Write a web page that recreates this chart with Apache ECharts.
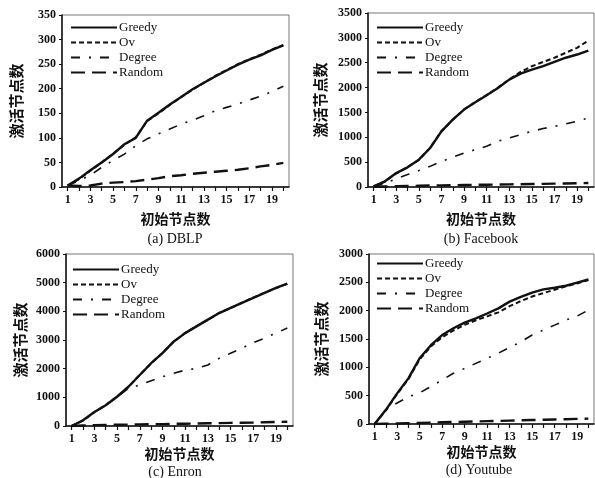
<!DOCTYPE html>
<html>
<head>
<meta charset="utf-8">
<script src="https://cdn.jsdelivr.net/npm/echarts@6/dist/echarts.min.js"></script>
<style>html,body{margin:0;padding:0;background:#fff;}#c{width:595px;height:478px;}</style>
</head>
<body>
<div id="c"></div>
<script>
const categories = ['1','2','3','4','5','6','7','8','9','10','11','12','13','14','15','16','17','18','19','20'];
const seriesNames = ['Greedy','Ov','Degree','Random'];
const captions = ['(a) DBLP','(b) Facebook','(c) Enron','(d) Youtube'];
const yMax = [350, 3500, 6000, 3000];
const yStep = [50, 500, 1000, 500];

const dblpGreedy = [3,17,34,50,67,87,100,135,151,168,183,199,212,225,237,249,259,268,279,288];
const dblpOv     = [3,16,33,50,68,86,101,134,150,167,183,198,212,226,238,250,260,269,280,289];
const dblpDegree = [3,13,24,40,54,67,84,98,108,118,128,136,145,155,162,169,177,185,194,205];
const dblpRandom = [3,2,3,7,9,10,12,15,18,22,24,27,29,31,33,35,38,42,45,49];

const fbGreedy = [13,115,280,395,550,785,1120,1355,1557,1705,1845,1993,2160,2280,2360,2430,2516,2600,2665,2745];
const fbOv     = [13,110,275,400,545,790,1125,1350,1560,1710,1850,2000,2165,2315,2430,2516,2600,2700,2800,2945];
const fbDegree = [13,67,170,250,330,415,515,600,685,750,820,920,985,1055,1120,1175,1220,1270,1320,1390];
const fbRandom = [5,10,15,20,25,30,33,36,40,43,46,50,53,56,60,63,67,70,75,80];

const enGreedy = [0,200,490,725,1020,1370,1780,2190,2540,2950,3240,3475,3710,3940,4120,4295,4470,4645,4820,4970];
const enOv     = [0,190,480,730,1030,1360,1790,2180,2550,2940,3250,3480,3700,3950,4110,4300,4480,4650,4810,4960];
const enDegree = [0,195,480,720,1010,1310,1430,1580,1720,1840,1950,2010,2130,2360,2540,2715,2910,3065,3240,3415];
const enRandom = [0,20,30,40,45,50,55,60,65,75,80,85,95,100,110,115,120,130,140,150];

const ytGreedy = [0,250,540,805,1160,1390,1570,1690,1790,1865,1950,2040,2160,2245,2320,2375,2405,2440,2495,2550];
const ytOv     = [0,240,530,790,1140,1370,1530,1650,1750,1830,1900,1970,2080,2170,2250,2310,2370,2430,2480,2540];
const ytDegree = [0,250,370,480,550,660,775,895,980,1070,1160,1250,1350,1450,1570,1660,1745,1835,1905,2010];
const ytRandom = [0,5,10,15,20,25,30,35,40,45,50,55,60,65,70,75,80,85,90,95];

const datasets = [
  [dblpGreedy, dblpOv, dblpDegree, dblpRandom],
  [fbGreedy, fbOv, fbDegree, fbRandom],
  [enGreedy, enOv, enDegree, enRandom],
  [ytGreedy, ytOv, ytDegree, ytRandom]
];

const grids = [
  {left: 62, top: 15, width: 227, height: 172},
  {left: 368, top: 13, width: 226, height: 174},
  {left: 66, top: 254, width: 227, height: 172},
  {left: 369, top: 254, width: 225, height: 170}
];
const legendPos = [
  {left: 70, top: 21},
  {left: 376, top: 21},
  {left: 72, top: 263},
  {left: 376, top: 257}
];
const captionPos = [
  {x: 175, y: 239},
  {x: 481, y: 239},
  {x: 175, y: 472},
  {x: 479, y: 470}
];
const xNameGap = [25, 25, 21, 21];

const styles = [
  {width: 2.4, type: 'solid'},
  {width: 2, type: [5, 3]},
  {width: 1.6, type: [9, 9, 2, 9]},
  {width: 2.4, type: [14, 7]}
];

const serif = '"Liberation Serif","DejaVu Serif",serif';
const cjk = '"Noto Sans CJK SC",sans-serif';

const option = {
  backgroundColor: '#fff',
  animation: false,
  grid: grids.map(g => Object.assign({show: true, borderColor: '#777', borderWidth: 1, containLabel: false}, g)),
  xAxis: grids.map((g, i) => ({
    type: 'category', gridIndex: i, data: categories, boundaryGap: true,
    name: '初始节点数', nameLocation: 'middle', nameGap: xNameGap[i],
    nameTextStyle: {fontFamily: cjk, fontSize: 14, fontWeight: 'bold', color: '#111', lineHeight: 14},
    axisLine: {lineStyle: {color: '#111', width: 1.5}},
    axisTick: {show: true, alignWithLabel: true, interval: 0, length: 4, lineStyle: {color: '#111', width: 1.2}},
    axisLabel: {interval: 1, margin: 7, fontFamily: serif, fontWeight: 'bold', fontSize: 12, color: '#111'},
    splitLine: {show: false}
  })),
  yAxis: grids.map((g, i) => ({
    type: 'value', gridIndex: i, min: 0, max: yMax[i], interval: yStep[i],
    name: '激活节点数', nameLocation: 'middle', nameRotate: 90, nameGap: i % 2 === 0 ? 38 : 40,
    nameTextStyle: {fontFamily: cjk, fontSize: 15, fontWeight: 'bold', color: '#111'},
    axisLine: {show: true, lineStyle: {color: '#111', width: 1.5}},
    axisTick: {show: true, length: 3, lineStyle: {color: '#111'}},
    axisLabel: {margin: 6, fontFamily: serif, fontWeight: 'bold', fontSize: 12, color: '#111',
      formatter: v => String(v)},
    splitLine: {show: false}
  })),
  legend: legendPos.map(p => ({
    orient: 'vertical', left: p.left, top: p.top, data: seriesNames,
    itemWidth: 46, itemHeight: 10, itemGap: 2, padding: 0,
    itemStyle: {opacity: 0},
    textStyle: {fontFamily: serif, fontSize: 13, color: '#111', padding: [0, 0, 0, -3]},
    selectedMode: false
  })),
  title: captions.map((t, i) => ({
    text: t, left: captionPos[i].x, top: captionPos[i].y - 7, textAlign: 'center',
    textStyle: {fontFamily: serif, fontSize: 14, fontWeight: 'normal', color: '#111', lineHeight: 14}, padding: 0
  })),
  series: []
};

datasets.forEach((set, gi) => {
  [3, 2, 1, 0].forEach(si => {
    option.series.push({
      type: 'line', name: seriesNames[si], xAxisIndex: gi, yAxisIndex: gi,
      data: set[si], showSymbol: false, symbol: 'none', smooth: false,
      lineStyle: {color: '#111', width: styles[si].width, type: styles[si].type},
      itemStyle: {color: '#111'}, z: 2 + (3 - si)
    });
  });
});

const chart = echarts.init(document.getElementById('c'), null, {renderer: 'canvas'});
chart.setOption(option);
</script>
</body>
</html>
